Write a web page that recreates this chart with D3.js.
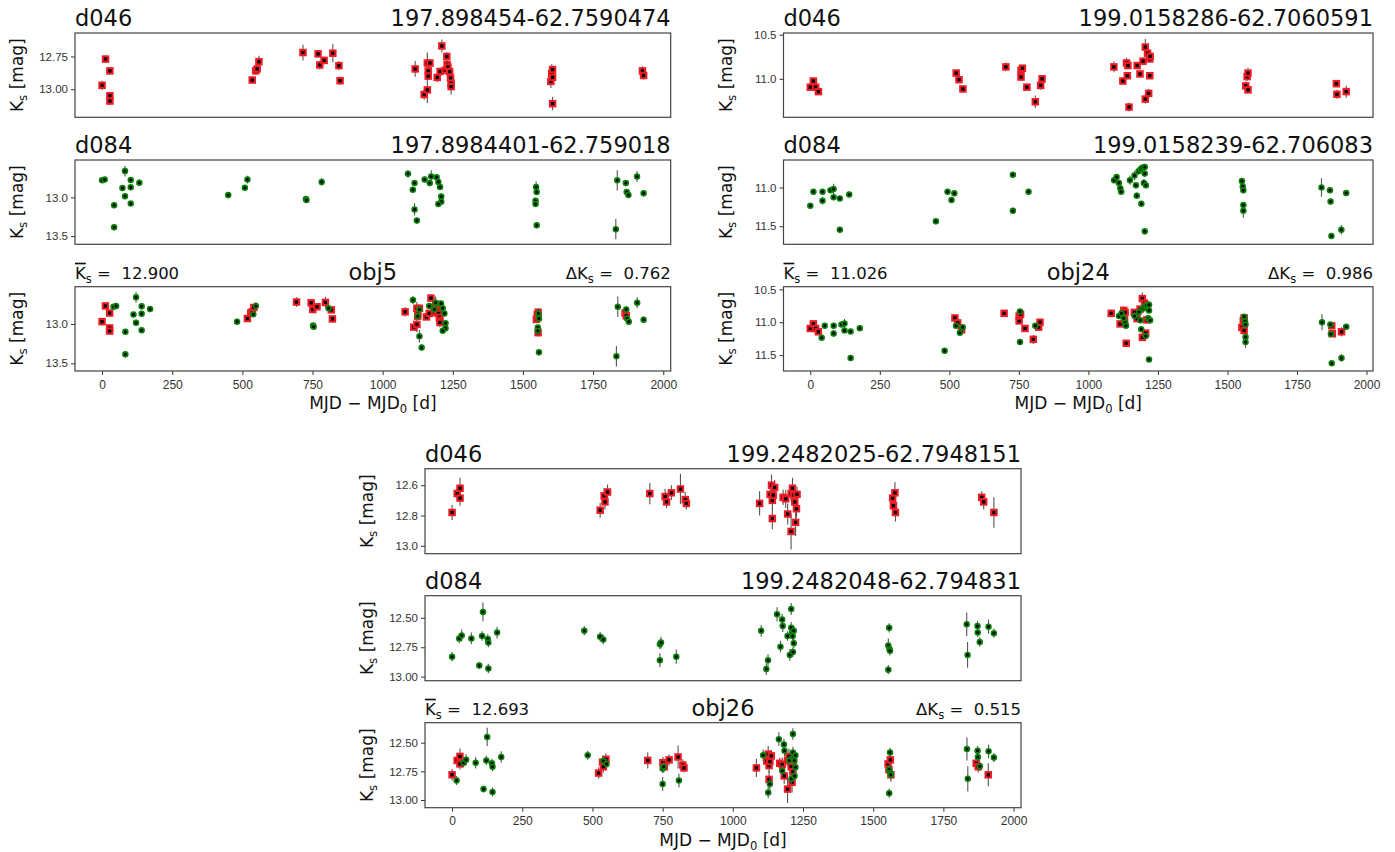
<!DOCTYPE html>
<html>
<head>
<meta charset="utf-8">
<script src="https://cdn.jsdelivr.net/npm/d3@7"></script>
<style>
  body { margin: 0; background: #fff; }
  svg { font-family: "DejaVu Sans", sans-serif; }
  text { white-space: pre; }
  .tick text { fill: #333; font-size: 11.5px; }
  .tick line { stroke: #333; }
  .panel-box { fill: none; stroke: #444; stroke-width: 1.2; }
  .title { font-size: 22.5px; fill: #111; }
  .header { font-size: 16.5px; fill: #111; }
  .axis-label { font-size: 17px; fill: #111; }
  .errbar { stroke: #555; stroke-width: 1.1; }
</style>
</head>
<body>
<div id="chart"></div>
<script>
(() => {
  // [MJD - MJD0 (d), Ks (mag), error (mag)]
  const obj5D046 = [
    [0, 12.97, 0.035], [12, 12.77, 0.03], [27, 12.86, 0.03], [27, 13.05, 0.03], [27, 13.09, 0.03],
    [518, 12.93, 0.03], [530, 12.86, 0.03], [535, 12.845, 0.03], [541, 12.79, 0.045],
    [693, 12.72, 0.06], [745, 12.73, 0.03], [751, 12.815, 0.035], [766, 12.78, 0.03], [796, 12.725, 0.07],
    [817, 12.82, 0.035], [821, 12.935, 0.03],
    [1080, 12.845, 0.06], [1111, 13.04, 0.04], [1122, 13.005, 0.1], [1122, 12.80, 0.08], [1125, 12.86, 0.03],
    [1125, 12.90, 0.03], [1131, 12.80, 0.03], [1156, 12.91, 0.035], [1166, 12.865, 0.03], [1172, 12.67, 0.05],
    [1184, 12.855, 0.03], [1189, 12.75, 0.035], [1190, 12.81, 0.03], [1193, 12.83, 0.03], [1199, 12.865, 0.03],
    [1202, 12.915, 0.03], [1204, 12.955, 0.03], [1204, 12.98, 0.06],
    [1548, 12.94, 0.05], [1551, 12.88, 0.07], [1554, 12.85, 0.03], [1554, 12.91, 0.03], [1554, 13.11, 0.05],
    [1864, 12.86, 0.035], [1868, 12.895, 0.03]
  ];
  const obj5D084 = [
    [41, 12.78, 0.03], [50, 12.77, 0.03], [83, 13.10, 0.04], [83, 13.385, 0.04], [112, 12.88, 0.03],
    [121, 12.66, 0.07], [121, 12.985, 0.04], [141, 12.775, 0.04], [141, 12.87, 0.03], [141, 13.08, 0.03],
    [171, 12.81, 0.04], [481, 12.97, 0.04], [539, 12.875, 0.03], [548, 12.77, 0.05],
    [752, 13.02, 0.03], [754, 13.035, 0.03], [807, 12.80, 0.05],
    [1108, 12.695, 0.05], [1125, 12.90, 0.03], [1131, 12.815, 0.03], [1131, 13.155, 0.08], [1139, 13.30, 0.04],
    [1166, 12.77, 0.04], [1184, 12.815, 0.04], [1189, 12.73, 0.08], [1208, 12.74, 0.04], [1214, 12.80, 0.04],
    [1220, 12.865, 0.04], [1224, 12.99, 0.04], [1224, 13.055, 0.04], [1214, 13.085, 0.03],
    [1555, 12.865, 0.07], [1557, 12.93, 0.04], [1553, 13.045, 0.04], [1553, 13.085, 0.04], [1557, 13.36, 0.04],
    [1833, 13.41, 0.13], [1838, 12.78, 0.13], [1868, 12.815, 0.04], [1871, 12.93, 0.03], [1877, 12.97, 0.03],
    [1907, 12.73, 0.07], [1930, 12.945, 0.04]
  ];
  const obj24D046 = [
    [0, 11.095, 0.03], [11, 11.025, 0.04], [19, 11.095, 0.03], [29, 11.145, 0.035],
    [520, 10.935, 0.04], [530, 11.01, 0.04], [544, 11.115, 0.04],
    [697, 10.865, 0.05], [751, 10.98, 0.04], [751, 10.905, 0.04], [756, 10.88, 0.04], [772, 11.095, 0.04],
    [802, 11.26, 0.07], [821, 11.075, 0.05], [826, 11.00, 0.04],
    [1082, 10.865, 0.06], [1114, 11.025, 0.04], [1127, 10.82, 0.06], [1130, 10.965, 0.04], [1132, 10.85, 0.04],
    [1136, 11.32, 0.05], [1165, 10.85, 0.04], [1175, 10.945, 0.04], [1186, 10.80, 0.04], [1194, 10.64, 0.09],
    [1194, 11.23, 0.05], [1202, 10.71, 0.06], [1206, 11.165, 0.05], [1210, 10.775, 0.04], [1210, 10.965, 0.04],
    [1211, 10.745, 0.04],
    [1552, 11.08, 0.05], [1557, 10.975, 0.05], [1560, 10.935, 0.06], [1560, 11.125, 0.04],
    [1875, 11.055, 0.04], [1877, 11.175, 0.05], [1910, 11.145, 0.07]
  ];
  const obj24D084 = [
    [41, 11.235, 0.03], [52, 11.055, 0.03], [84, 11.055, 0.03], [84, 11.17, 0.05], [112, 11.035, 0.03],
    [123, 11.02, 0.07], [123, 11.125, 0.03], [145, 11.14, 0.03], [145, 11.545, 0.03], [178, 11.09, 0.04],
    [483, 11.435, 0.04], [524, 11.055, 0.04], [538, 11.16, 0.04], [548, 11.075, 0.04],
    [754, 10.835, 0.03], [754, 11.30, 0.04], [809, 11.055, 0.04],
    [1110, 10.905, 0.04], [1119, 10.865, 0.04], [1127, 10.94, 0.04], [1132, 11.01, 0.04], [1135, 11.055, 0.03],
    [1166, 10.905, 0.06], [1182, 10.845, 0.06], [1187, 10.97, 0.04], [1190, 11.105, 0.04], [1196, 10.79, 0.04],
    [1203, 10.765, 0.04], [1206, 11.21, 0.04], [1209, 10.745, 0.04], [1218, 10.735, 0.04], [1218, 10.82, 0.04],
    [1215, 10.94, 0.05], [1222, 10.97, 0.04], [1218, 11.565, 0.04],
    [1560, 10.915, 0.04], [1563, 10.985, 0.04], [1565, 11.035, 0.04], [1565, 11.225, 0.04], [1565, 11.30, 0.09],
    [1840, 11.00, 0.12], [1870, 11.035, 0.04], [1872, 11.18, 0.04], [1875, 11.625, 0.04], [1910, 11.545, 0.06],
    [1927, 11.07, 0.04]
  ];
  const obj26D046 = [
    [0, 12.78, 0.05], [18, 12.655, 0.04], [28, 12.62, 0.07], [28, 12.685, 0.05],
    [522, 12.765, 0.05], [536, 12.67, 0.05], [539, 12.71, 0.05], [548, 12.645, 0.05],
    [697, 12.655, 0.07], [751, 12.675, 0.05], [756, 12.71, 0.04], [773, 12.65, 0.05], [805, 12.625, 0.1],
    [822, 12.695, 0.05], [826, 12.72, 0.04],
    [1084, 12.72, 0.08], [1121, 12.66, 0.06], [1126, 12.60, 0.07], [1129, 12.70, 0.06], [1129, 12.82, 0.07],
    [1132, 12.665, 0.05], [1137, 12.615, 0.05], [1167, 12.68, 0.05], [1176, 12.69, 0.06], [1183, 12.79, 0.07],
    [1195, 12.905, 0.12], [1195, 12.655, 0.05], [1200, 12.62, 0.07], [1205, 12.665, 0.06], [1208, 12.71, 0.05],
    [1211, 12.845, 0.09], [1214, 12.755, 0.06], [1216, 12.66, 0.05],
    [1553, 12.685, 0.05], [1556, 12.735, 0.05], [1561, 12.65, 0.07], [1563, 12.78, 0.06],
    [1867, 12.68, 0.04], [1874, 12.71, 0.05], [1910, 12.78, 0.1]
  ];
  const obj26D084 = [
    [16, 12.83, 0.04], [41, 12.675, 0.04], [50, 12.65, 0.05], [84, 12.675, 0.05], [112, 12.905, 0.03],
    [122, 12.655, 0.04], [125, 12.45, 0.08], [142, 12.68, 0.04], [144, 12.71, 0.04], [144, 12.93, 0.04],
    [175, 12.625, 0.05], [483, 12.61, 0.04], [539, 12.66, 0.04], [550, 12.685, 0.04],
    [750, 12.725, 0.04], [754, 12.71, 0.05], [750, 12.86, 0.06], [808, 12.83, 0.06],
    [1108, 12.61, 0.05], [1126, 12.935, 0.05], [1132, 12.86, 0.05], [1164, 12.47, 0.06], [1176, 12.745, 0.05],
    [1182, 12.515, 0.05], [1184, 12.57, 0.05], [1201, 12.655, 0.04], [1209, 12.815, 0.05], [1214, 12.425, 0.05],
    [1214, 12.585, 0.05], [1217, 12.625, 0.04], [1219, 12.655, 0.04], [1220, 12.79, 0.04], [1223, 12.715, 0.04],
    [1223, 12.61, 0.04],
    [1560, 12.585, 0.04], [1557, 12.735, 0.06], [1561, 12.765, 0.04], [1563, 12.78, 0.04], [1557, 12.94, 0.04],
    [1834, 12.555, 0.1], [1837, 12.815, 0.11], [1872, 12.57, 0.04], [1873, 12.625, 0.04], [1880, 12.705, 0.04],
    [1911, 12.575, 0.06], [1930, 12.63, 0.04]
  ];

  const objNames = ['obj5', 'obj24', 'obj26'];
  const meanKs = ['12.900', '11.026', '12.693'];
  const deltaKs = ['0.762', '0.986', '0.515'];
  const coordsD046 = ['197.898454-62.7590474', '199.0158286-62.7060591', '199.2482025-62.7948151'];
  const coordsD084 = ['197.8984401-62.759018', '199.0158239-62.706083', '199.2482048-62.794831'];

  // y limits per object: [d046 panel, d084 panel, combined panel] (bright on top)
  const yLimits = [
    [[12.571, 13.214], [12.517, 13.606], [12.525, 13.598]],
    [[10.481, 11.436], [10.644, 11.733], [10.46, 11.741]],
    [[12.491, 13.052], [12.312, 13.034], [12.326, 13.067]]
  ];
  const yTicks = [
    [[12.75, 13.0], [13.0, 13.5], [13.0, 13.5]],
    [[10.5, 11.0], [11.0, 11.5], [10.5, 11.0, 11.5]],
    [[12.6, 12.8, 13.0], [12.5, 12.75, 13.0], [12.5, 12.75, 13.0]]
  ];
  const yTickFormats = [
    ['.2f', '.1f', '.1f'],
    ['.1f', '.1f', '.1f'],
    ['.1f', '.2f', '.2f']
  ];
  const xTicks = [0, 250, 500, 750, 1000, 1250, 1500, 1750, 2000];

  const seriesByObject = [
    [obj5D046, obj5D084],
    [obj24D046, obj24D084],
    [obj26D046, obj26D084]
  ];

  const layouts = [
    { left: 75, right: 670.7, tops: [33, 160, 286.7], height: 84.3 },
    { left: 783.5, right: 1373, tops: [33, 160, 286.7], height: 84.3 },
    { left: 425, right: 1021, tops: [468.7, 595.7, 722.7], height: 85 }
  ];

  const redColor = '#ee1c25';
  const greenColor = '#0b800b';

  const svg = d3.select('#chart').append('svg')
    .attr('width', 1395)
    .attr('height', 852);

  function addSub(text, main, sub, after, fontSize) {
    const shift = Math.round(fontSize * 0.25);
    text.append('tspan').text(main);
    text.append('tspan').attr('font-size', fontSize * 0.7).attr('dy', shift).text(sub);
    if (after) text.append('tspan').attr('dy', -shift).text(after);
  }

  function drawPanel(lay, top, series, kinds, yDomain, ticks, fmt, showX) {
    const xs = series.flatMap(s => s.map(d => d[0]));
    const ext = d3.extent(xs);
    const pad = (ext[1] - ext[0]) * 0.05;
    const x = d3.scaleLinear().domain([ext[0] - pad, ext[1] + pad]).range([lay.left, lay.right]);
    const y = d3.scaleLinear().domain(yDomain).range([top, top + lay.height]);
    const g = svg.append('g');

    const clipId = `clip-${Math.round(lay.left)}-${Math.round(top)}`;
    g.append('clipPath').attr('id', clipId)
      .append('rect')
      .attr('x', lay.left).attr('y', top)
      .attr('width', lay.right - lay.left).attr('height', lay.height);

    const plot = g.append('g').attr('clip-path', `url(#${clipId})`);

    series.forEach((data, i) => {
      const layer = plot.append('g');
      layer.selectAll('line')
        .data(data)
        .join('line')
        .attr('class', 'errbar')
        .attr('x1', d => x(d[0]))
        .attr('x2', d => x(d[0]))
        .attr('y1', d => y(d[1] - d[2]))
        .attr('y2', d => y(d[1] + d[2]));

      if (kinds[i] === 'd046') {
        layer.selectAll('rect')
          .data(data)
          .join('rect')
          .attr('x', d => x(d[0]) - 2.7)
          .attr('y', d => y(d[1]) - 2.7)
          .attr('width', 5.4)
          .attr('height', 5.4)
          .attr('fill', '#000')
          .attr('stroke', redColor)
          .attr('stroke-width', 2.1);
      } else {
        layer.selectAll('circle')
          .data(data)
          .join('circle')
          .attr('cx', d => x(d[0]))
          .attr('cy', d => y(d[1]))
          .attr('r', 2.4)
          .attr('fill', '#000')
          .attr('stroke', greenColor)
          .attr('stroke-width', 1.7);
      }
    });

    g.append('g')
      .attr('transform', `translate(${lay.left},0)`)
      .call(d3.axisLeft(y).tickValues(ticks).tickFormat(d3.format(fmt)).tickSize(4).tickPadding(3))
      .call(a => a.select('.domain').remove());

    if (showX) {
      g.append('g')
        .attr('transform', `translate(0,${top + lay.height})`)
        .call(d3.axisBottom(x).tickValues(xTicks).tickFormat(d3.format('d')).tickSize(4).tickPadding(5))
        .call(a => a.select('.domain').remove())
        .call(a => a.selectAll('.tick text').style('font-size', '12px'));
    }

    g.append('rect')
      .attr('class', 'panel-box')
      .attr('x', lay.left)
      .attr('y', top)
      .attr('width', lay.right - lay.left)
      .attr('height', lay.height);

    svg.append('text')
      .attr('class', 'axis-label')
      .attr('transform', `translate(${lay.left - 52},${top + lay.height / 2}) rotate(-90)`)
      .attr('text-anchor', 'middle')
      .call(t => addSub(t, 'K', 's', ' [mag]', 17));
  }

  layouts.forEach((lay, k) => {
    const [d046, d084] = seriesByObject[k];
    const panels = [
      { series: [d046], kinds: ['d046'] },
      { series: [d084], kinds: ['d084'] },
      { series: [d046, d084], kinds: ['d046', 'd084'] }
    ];

    panels.forEach((p, j) => {
      drawPanel(lay, lay.tops[j], p.series, p.kinds, yLimits[k][j], yTicks[k][j], yTickFormats[k][j], j === 2);
    });

    // panel titles
    [['d046', coordsD046[k]], ['d084', coordsD084[k]]].forEach(([tile, coord], j) => {
      svg.append('text')
        .attr('class', 'title')
        .attr('x', lay.left)
        .attr('y', lay.tops[j] - 7)
        .text(tile);
      svg.append('text')
        .attr('class', 'title')
        .attr('x', lay.right)
        .attr('y', lay.tops[j] - 7)
        .attr('text-anchor', 'end')
        .text(coord);
    });

    const top3 = lay.tops[2];
    svg.append('text')
      .attr('class', 'title')
      .attr('x', (lay.left + lay.right) / 2)
      .attr('y', top3 - 7)
      .attr('text-anchor', 'middle')
      .text(objNames[k]);

    const mean = svg.append('text')
      .attr('class', 'header')
      .attr('x', lay.left)
      .attr('y', top3 - 8);
    mean.append('tspan').style('text-decoration', 'overline').text('K');
    mean.append('tspan').attr('font-size', 11.5).attr('dy', 4).text('s');
    mean.append('tspan').attr('dy', -4).text(` =  ${meanKs[k]}`);

    svg.append('text')
      .attr('class', 'header')
      .attr('x', lay.right)
      .attr('y', top3 - 8)
      .attr('text-anchor', 'end')
      .call(t => addSub(t, 'ΔK', 's', ` =  ${deltaKs[k]}`, 16.5));

    svg.append('text')
      .attr('class', 'axis-label')
      .attr('x', (lay.left + lay.right) / 2)
      .attr('y', top3 + lay.height + 38)
      .attr('text-anchor', 'middle')
      .call(t => addSub(t, 'MJD − MJD', '0', ' [d]', 16.5));
  });
})();
</script>
</body>
</html>
